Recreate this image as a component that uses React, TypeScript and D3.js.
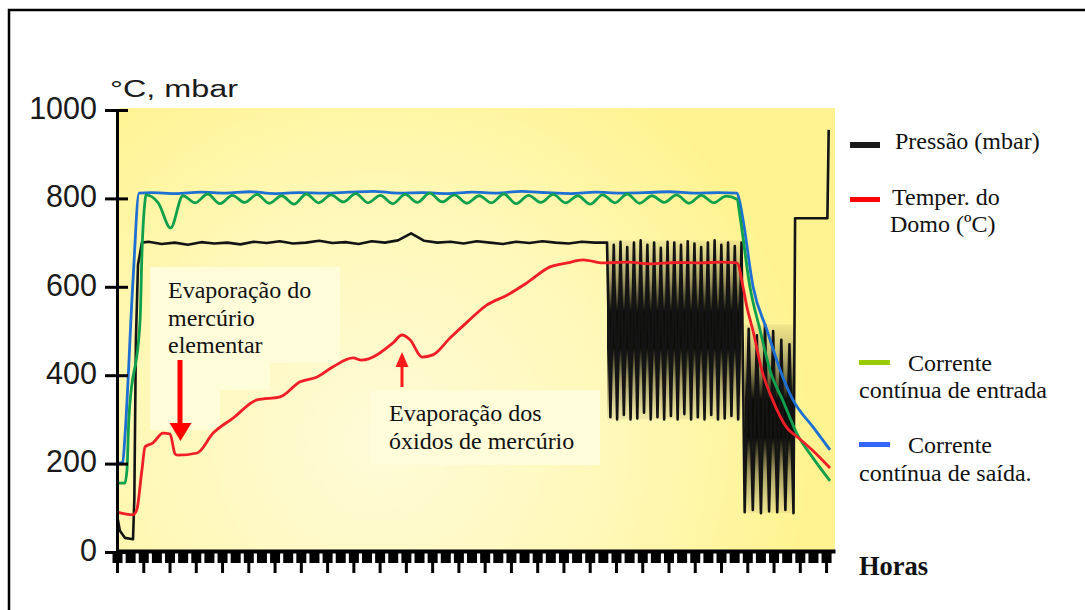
import React, { useRef, useEffect } from 'react';
import * as d3 from 'd3';

// time in hours, value in °C / mbar
const yTicks = [0, 200, 400, 600, 800, 1000];
const hourTicks = d3.range(0, 28);
const halfHourTicks = d3.range(0, 27.5, 0.5);

// Pressão (mbar)
const pressureStart: [number, number][] = [
  [0.02, 77], [0.11, 48], [0.3, 32], [0.61, 29], [0.66, 120], [0.72, 480], [0.8, 650], [0.95, 700],
];
const pressurePlateauStart = 1.2;
const pressurePlateauStep = 0.5;
const pressurePlateau = [
  702, 697, 700, 695, 701, 698, 700, 696, 702, 699, 703, 698, 700, 704, 699, 701, 697, 703,
  700, 705, 721, 704, 700, 702, 698, 703, 700, 697, 702, 699, 703, 700, 698, 702, 700,
];
const burst1Start = 18.66;
const burst1Step = 0.128;
const pressureBurst1 = [
  700, 305, 695, 300, 702, 310, 690, 300, 700, 302, 705, 315, 695, 300, 700, 305, 688, 300,
  702, 308, 700, 300, 695, 312, 703, 300, 698, 305, 690, 300, 700, 310, 705, 300, 695, 302,
  700, 308, 692, 300, 700,
];
const burst2Start = 23.9;
const burst2Step = 0.155;
const pressureBurst2 = [90, 505, 95, 490, 88, 515, 92, 500, 90, 480, 95, 470, 88];
const pressureEnd: [number, number][] = [[25.82, 755], [27.05, 755], [27.1, 955]];

// Temper. do Domo (ºC)
const temperature: [number, number][] = [
  [0.02, 90], [0.6, 84], [0.75, 95], [0.95, 186], [1.07, 238], [1.37, 247], [1.75, 269],
  [2.02, 267], [2.21, 222], [2.3, 219], [3.05, 224], [3.66, 269], [4.42, 303], [5.33, 344],
  [6.21, 351], [6.97, 385], [7.62, 396], [8.23, 419], [8.99, 439], [9.3, 434], [10.51, 473],
  [10.85, 491], [11.16, 480], [11.61, 441], [12.03, 446], [12.68, 484], [13.33, 520],
  [14.09, 559], [14.85, 581], [15.61, 609], [16.49, 645], [17.14, 654], [17.75, 661],
  [18.51, 654], [19.42, 656], [20.3, 652], [21.3, 655], [22.2, 654], [23.0, 656], [23.61, 654],
  [23.84, 599], [23.99, 553], [24.22, 500], [24.56, 410], [24.98, 342], [25.51, 281],
  [25.95, 258], [26.5, 229], [27.15, 190],
];

// Corrente contínua de entrada
const inletStart: [number, number][] = [
  [0.02, 156], [0.3, 156], [0.38, 186], [0.45, 300], [0.88, 525], [0.95, 676], [1.07, 796],
];
const inletPlateauStart = 1.1;
const inletPlateauStep = 0.47;
const inletPlateau = [
  808, 790, 733, 806, 790, 810, 788, 807, 791, 809, 789, 806, 787, 810, 790, 808, 792, 811,
  790, 807, 788, 809, 791, 812, 792, 808, 789, 806, 790, 810, 788, 807, 791, 809, 790, 806,
  787, 808, 790, 810, 789, 806, 791, 808, 789, 807, 790, 805,
];
const inletEnd: [number, number][] = [
  [23.61, 798], [23.72, 760], [24.1, 600], [24.49, 501], [24.87, 410], [25.36, 342],
  [25.89, 268], [26.5, 213], [27.15, 161],
];

// Corrente contínua de saída
const outletStart: [number, number][] = [
  [0.02, 201], [0.22, 203], [0.3, 260], [0.61, 615], [0.84, 812],
];
const outletPlateauStart = 1.3;
const outletPlateauStep = 0.94;
const outletPlateau = [
  813, 811, 814, 812, 815, 811, 813, 812, 814, 816, 812, 813, 811, 814, 812, 816, 813, 811,
  814, 812, 813, 815, 812, 813,
];
const outletEnd: [number, number][] = [
  [23.61, 812], [23.72, 790], [23.84, 751], [24.22, 600], [24.75, 502], [25.25, 412],
  [25.74, 344], [26.5, 283], [27.15, 231],
];

const sampled = (start: number, step: number, values: number[]): [number, number][] =>
  values.map((v, i) => [start + i * step, v]);

const burst1 = sampled(burst1Start, burst1Step, pressureBurst1);
const burst2 = sampled(burst2Start, burst2Step, pressureBurst2);
const pressure = [
  ...pressureStart,
  ...sampled(pressurePlateauStart, pressurePlateauStep, pressurePlateau),
  ...burst1,
  ...burst2,
  ...pressureEnd,
];
const inlet = [...inletStart, ...sampled(inletPlateauStart, inletPlateauStep, inletPlateau), ...inletEnd];
const outlet = [...outletStart, ...sampled(outletPlateauStart, outletPlateauStep, outletPlateau), ...outletEnd];

const serif = '"Liberation Serif", "Times New Roman", serif';
const sans = '"Liberation Sans", Arial, sans-serif';

const App: React.FC = () => {
  const svgRef = useRef<SVGSVGElement | null>(null);

  useEffect(() => {
    if (!svgRef.current) return;
    const svg = d3.select(svgRef.current);
    svg.selectAll('*').remove();

    const x = d3.scaleLinear().domain([0, 27.34]).range([117, 835]);
    const y = d3.scaleLinear().domain([0, 1000]).range([552, 110]);

    // outer frame
    svg.append('path')
      .attr('d', 'M9,612V10H1087')
      .attr('fill', 'none')
      .attr('stroke', '#000')
      .attr('stroke-width', 2.5);

    const defs = svg.append('defs');
    const grad = defs.append('radialGradient')
      .attr('id', 'bg')
      .attr('gradientUnits', 'userSpaceOnUse')
      .attr('cx', 380).attr('cy', 440).attr('r', 430);
    grad.append('stop').attr('offset', '0%').attr('stop-color', '#fffbd8');
    grad.append('stop').attr('offset', '55%').attr('stop-color', '#fff8b8');
    grad.append('stop').attr('offset', '100%').attr('stop-color', '#fff391');

    const burstGrad = defs.append('linearGradient')
      .attr('id', 'burst')
      .attr('x1', 0).attr('y1', 0).attr('x2', 0).attr('y2', 1);
    [
      [0, '#a39c64', 0.15], [0.22, '#7a7444', 0.7], [0.4, '#000', 0.95],
      [0.6, '#000', 0.95], [0.78, '#7a7444', 0.7], [1, '#a39c64', 0.15],
    ].forEach(([o, c, a]) => {
      burstGrad.append('stop').attr('offset', o as number).attr('stop-color', c as string).attr('stop-opacity', a as number);
    });

    svg.append('rect')
      .attr('x', x(0) + 2).attr('y', y(1000) - 2)
      .attr('width', x.range()[1] - x(0) - 2).attr('height', y(0) - y(1000) + 1)
      .attr('fill', 'url(#bg)');

    // light boxes behind annotations
    svg.append('path')
      .attr('d', 'M150,267H340V363H270V390H220V430H150Z')
      .attr('fill', '#fffcda');
    svg.append('rect')
      .attr('x', 370).attr('y', 390).attr('width', 230).attr('height', 75)
      .attr('fill', '#fffcda');

    // dense shading behind the pressure oscillations
    [burst1, burst2].forEach(b => {
      const x0 = x(b[0][0]);
      const x1 = x(b[b.length - 1][0]);
      const top = y(d3.max(b, d => d[1]) ?? 0);
      const bottom = y(d3.min(b, d => d[1]) ?? 0);
      svg.append('rect')
        .attr('x', x0).attr('y', top)
        .attr('width', x1 - x0).attr('height', bottom - top)
        .attr('fill', 'url(#burst)');
    });

    const straight = d3.line<[number, number]>()
      .x(d => x(d[0]))
      .y(d => y(d[1]));
    const smooth = d3.line<[number, number]>()
      .x(d => x(d[0]))
      .y(d => y(d[1]))
      .curve(d3.curveMonotoneX);

    const series = [
      { data: pressure, color: '#141414', width: 2.6, gen: straight },
      { data: outlet, color: '#1d6fd3', width: 2.8, gen: smooth },
      { data: inlet, color: '#10a04c', width: 2.8, gen: smooth },
      { data: temperature, color: '#f01e26', width: 2.8, gen: smooth },
    ];
    series.forEach(s => {
      svg.append('path')
        .datum(s.data)
        .attr('d', s.gen)
        .attr('fill', 'none')
        .attr('stroke', s.color)
        .attr('stroke-width', s.width)
        .attr('stroke-linejoin', 'round');
    });

    // arrows
    svg.append('rect').attr('x', 177.5).attr('y', 360).attr('width', 5).attr('height', 64).attr('fill', '#ff0000');
    svg.append('path').attr('d', 'M169.5,423H191.5L180.5,441Z').attr('fill', '#ff0000');
    svg.append('rect').attr('x', 400.5).attr('y', 365).attr('width', 3).attr('height', 22).attr('fill', '#ff1a1a');
    svg.append('path').attr('d', 'M395.5,367H408.5L402,352Z').attr('fill', '#ff1a1a');

    // y axis
    const yAxis = svg.append('g')
      .attr('transform', `translate(${x(0)},0)`)
      .call(d3.axisLeft(y).tickValues(yTicks).tickSize(12).tickSizeOuter(0).tickPadding(8)
        .tickFormat(d3.format('d')));
    yAxis.select('.domain').attr('stroke-width', 3);
    yAxis.selectAll('.tick line').attr('x2', -12).attr('x1', 11).attr('stroke-width', 3);
    yAxis.selectAll('.tick text')
      .attr('dy', '0.27em')
      .style('font-family', sans)
      .style('font-size', '30.5px')
      .attr('fill', '#1a1a1a');

    // x axis: thick bar, wide short ticks and long hour ticks
    const xMinor = svg.append('g')
      .attr('transform', `translate(0,${y(0) - 1})`)
      .call(d3.axisBottom(x).tickValues(halfHourTicks).tickSize(12).tickSizeOuter(0).tickFormat(() => ''));
    xMinor.select('.domain').attr('stroke-width', 4);
    xMinor.selectAll('.tick line').attr('stroke-width', 10);
    const xMajor = svg.append('g')
      .attr('transform', `translate(0,${y(0) - 1})`)
      .call(d3.axisBottom(x).tickValues(hourTicks).tickSize(22).tickSizeOuter(0).tickFormat(() => ''));
    xMajor.select('.domain').remove();
    xMajor.selectAll('.tick line').attr('stroke-width', 3);

    // axis title
    svg.append('text')
      .attr('x', 110).attr('y', 97)
      .attr('textLength', 128).attr('lengthAdjust', 'spacingAndGlyphs')
      .style('font-family', sans).style('font-size', '23px').attr('fill', '#1a1a1a')
      .text('°C, mbar');

    const addText = (tx: number, ty: number, str: string, size = 24, weight = 'normal') =>
      svg.append('text')
        .attr('x', tx).attr('y', ty)
        .style('font-family', serif).style('font-size', `${size}px`).style('font-weight', weight)
        .attr('fill', '#111')
        .text(str);

    // annotations
    addText(168, 298, 'Evaporação do');
    addText(168, 326, 'mercúrio');
    addText(168, 353, 'elementar');
    addText(389, 421, 'Evaporação dos');
    addText(389, 449, 'óxidos de mercúrio');

    // legend
    svg.append('rect').attr('x', 850).attr('y', 142).attr('width', 30).attr('height', 6).attr('fill', '#1a1a1a');
    addText(895, 149, 'Pressão (mbar)');
    svg.append('rect').attr('x', 850).attr('y', 197).attr('width', 30).attr('height', 5).attr('fill', '#ff0000');
    addText(892, 205, 'Temper. do');
    addText(890, 232, 'Domo (ºC)');
    svg.append('rect').attr('x', 859).attr('y', 360).attr('width', 31).attr('height', 5).attr('fill', '#99cc00');
    addText(908, 371, 'Corrente');
    addText(859, 398, 'contínua de entrada');
    svg.append('rect').attr('x', 859).attr('y', 442).attr('width', 31).attr('height', 5).attr('fill', '#3366ff');
    addText(908, 453, 'Corrente');
    addText(859, 481, 'contínua de saída.');
    addText(859, 575, 'Horas', 26.5, 'bold');
  }, []);

  return (
    <svg
      ref={svgRef}
      width={1085}
      height={610}
      style={{ position: 'absolute', left: 0, top: 0, display: 'block', background: '#fff' }}
    />
  );
};

export default App;
